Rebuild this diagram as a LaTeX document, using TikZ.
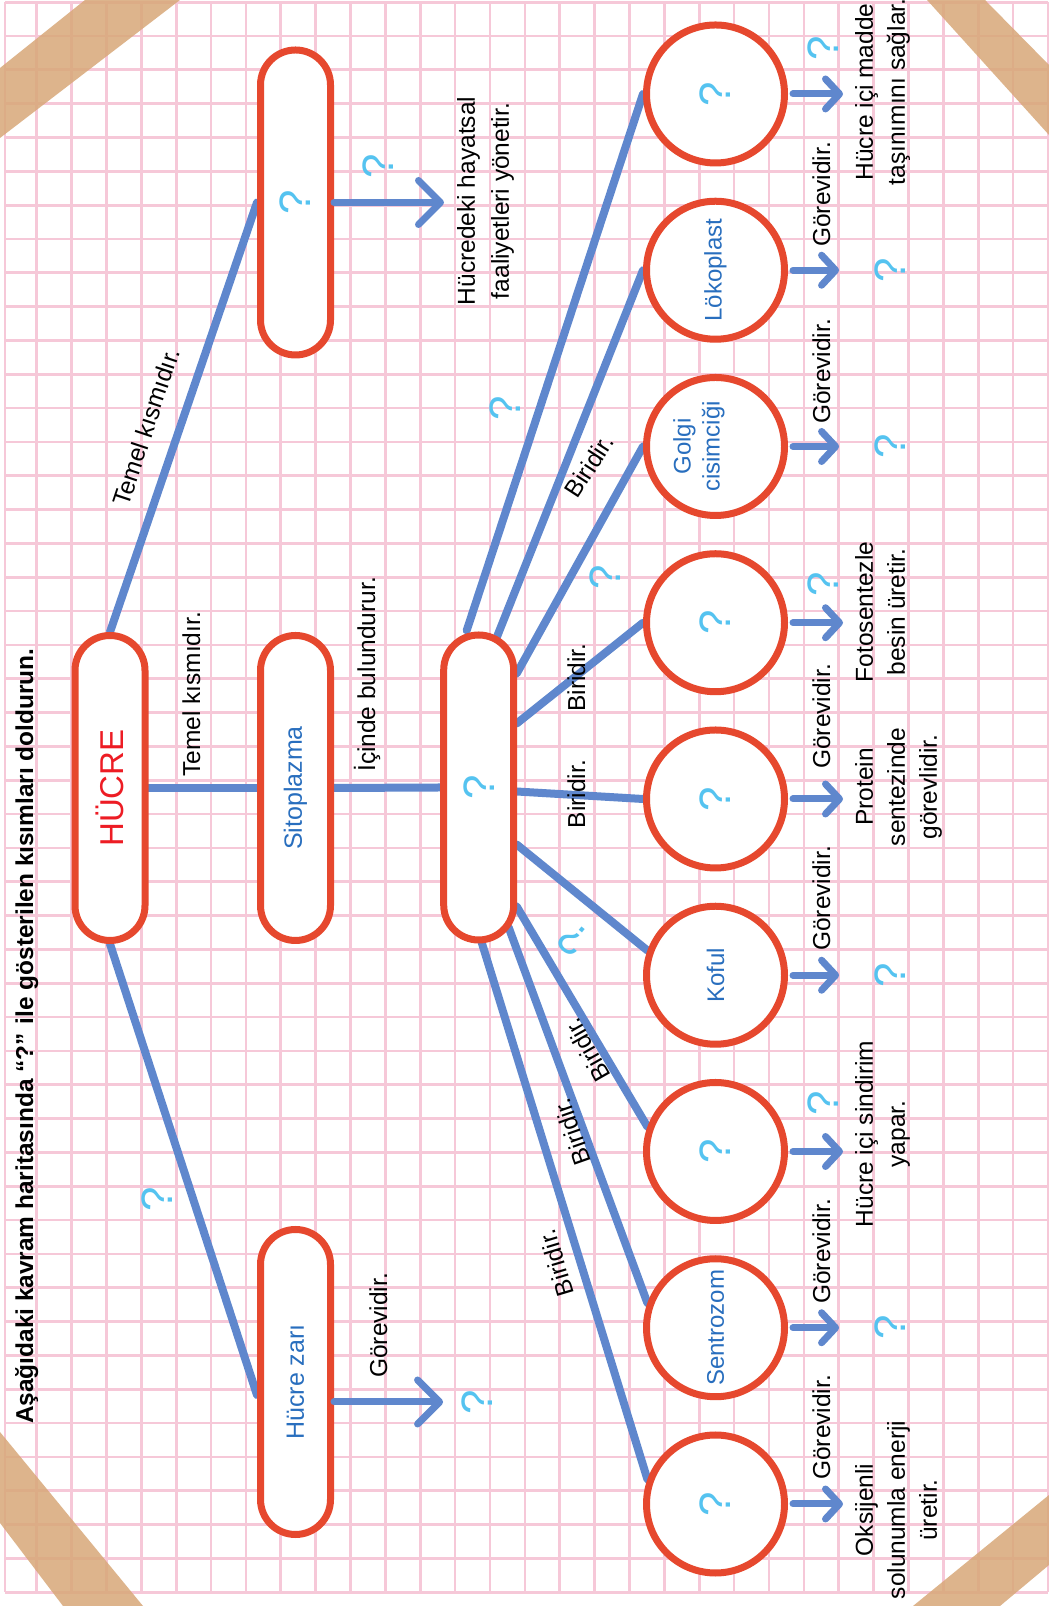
\documentclass[tikz,border=0pt]{standalone}
\usepackage{fontspec}
\setmainfont{Liberation Sans}
\usepackage{tikz}
\usetikzlibrary{arrows.meta,calc}

\definecolor{kirmizi}{RGB}{230,72,46}
\definecolor{hucrerenk}{RGB}{237,28,36}
\definecolor{mavi}{RGB}{95,135,205}
\definecolor{adrenk}{RGB}{40,110,190}
\definecolor{sorurenk}{RGB}{85,195,240}
\definecolor{pembe}{RGB}{246,200,216}
\definecolor{bant}{RGB}{216,168,120}

\pgfdeclarelayer{kagit}
\pgfdeclarelayer{cizgi}
\pgfsetlayers{kagit,cizgi,main}

\tikzset{
  kutu/.style={draw=kirmizi, line width=7pt, fill=white, rounded corners=35pt,
    minimum width=305pt, minimum height=70pt, inner sep=0pt,
    font=\fontsize{25}{30}\selectfont, text=adrenk},
  organel/.style={draw=kirmizi, line width=7pt, fill=white, circle,
    minimum size=138pt, inner sep=0pt, align=center,
    font=\fontsize{24}{29}\selectfont, text=adrenk},
  bos/.style={text=sorurenk, font=\fontsize{44}{44}\selectfont},
  soru/.style={text=sorurenk, font=\fontsize{44}{44}\selectfont, inner sep=0pt},
  yazi/.style={font=\fontsize{24.5}{32}\selectfont, inner sep=0pt, align=center},
  bag/.style={line width=8pt, draw=mavi, line cap=round},
  ok/.style={line width=7pt, draw=mavi, line cap=round,
    -{Straight Barb[length=14pt,width=30pt,round]}},
  buyukok/.style={ok, -{Straight Barb[length=22pt,width=44pt,round]}},
}

\begin{document}
\begin{tikzpicture}[x=1pt, y=1pt]
\useasboundingbox (0,0) rectangle (1049,1606);

% kareli kagit ve bantlar
\begin{pgfonlayer}{kagit}
\fill[white] (0,0) rectangle (1049,1606);
\foreach \j in {0,...,29}
  \draw[pembe, line width=2.7pt] ({36.7+34.87*\j},14) -- ({36.7+34.87*\j},1604);
\draw[pembe, line width=2.7pt] (5,14) -- (5,1604);
\foreach \j in {0,...,47}
  \draw[pembe, line width=2.7pt] (5,{1603.8-33.83*\j}) -- (1048,{1603.8-33.83*\j});
\fill[bant, opacity=.85] (0,1538) -- (85,1606) -- (180,1606) -- (0,1468) -- cycle;
\fill[bant, opacity=.85] (927,1606) -- (985,1606) -- (1049,1541) -- (1049,1471) -- cycle;
\fill[bant, opacity=.85] (0,174) -- (143,0) -- (63,0) -- (0,83) -- cycle;
\fill[bant, opacity=.85] (913,0) -- (1049,111) -- (1049,41) -- (1000,0) -- cycle;
\end{pgfonlayer}

\begin{scope}[rotate=90, transform shape]
\node[anchor=base west, inner sep=0pt, font=\fontsize{24.4}{29}\selectfont\bfseries] (baslik) at (182,-33)
  {Aşağıdaki kavram haritasında “?” ile gösterilen kısımları doldurun.};

% kutular
\node[kutu, text=hucrerenk, font=\fontsize{33}{36}\selectfont] (hucre) at (818,-110) {HÜCRE};
\node[kutu] (sitoplazma) at (818,-295.5) {Sitoplazma};
\node[kutu, bos] (ust) at (1403.5,-295.5) {?};
\node[kutu] (zar) at (224,-295.5) {Hücre zarı};
\node[kutu, bos] (orta) at (818.5,-478.7) {?};

% organeller
\node[organel, bos] (o1) at (102,-715.5) {?};
\node[organel] (o2) at (278.25,-715.5) {Sentrozom};
\node[organel, bos] (o3) at (454.5,-715.5) {?};
\node[organel] (o4) at (630.75,-715.5) {Koful};
\node[organel, bos] (o5) at (807,-715.5) {?};
\node[organel, bos] (o6) at (983.25,-715.5) {?};
\node[organel, text depth=38pt] (o7) at (1159.5,-715.5) {Golgi\\cisimciği};
\node[organel] (o8) at (1335.75,-715.5) {Lökoplast};
\node[organel, bos] (o9) at (1512,-715.5) {?};

% gorevler
\node[yazi, anchor=north] (g1) at (96,-855) {Oksijenli\\solunumla enerji\\üretir.};
\node[soru, anchor=base] (g2) at (278.25,-905) {?};
\node[yazi, anchor=north] (g3) at (472,-855) {Hücre içi sindirim\\yapar.};
\node[soru, anchor=base] (g4) at (630.75,-905) {?};
\node[yazi, anchor=north] (g5) at (819,-855) {Protein\\sentezinde\\görevlidir.};
\node[yazi, anchor=north] (g6) at (994,-855) {Fotosentezle\\besin üretir.};
\node[soru, anchor=base] (g7) at (1159.5,-905) {?};
\node[soru, anchor=base] (g8) at (1335.75,-905) {?};
\node[yazi, anchor=north] (g9) at (1514,-855) {Hücre içi madde\\taşınımını sağlar.};

% fiiller
\node[yazi, anchor=base west] (f1) at (126,-830) {Görevidir.};
\node[yazi, anchor=base west] (f2) at (302,-830) {Görevidir.};
\node[soru, anchor=base] (f3) at (502.5,-838) {?};
\node[yazi, anchor=base west] (f4) at (655,-830) {Görevidir.};
\node[yazi, anchor=base west] (f5) at (837,-830) {Görevidir.};
\node[soru, anchor=base] (f6) at (1022,-838) {?};
\node[yazi, anchor=base west] (f7) at (1182,-830) {Görevidir.};
\node[yazi, anchor=base west] (f8) at (1359,-830) {Görevidir.};
\node[soru, anchor=base] (f9) at (1558,-838) {?};

% baglanti yazilari
\node[yazi, anchor=base west] (temel1) at (829,-200) {Temel kısmıdır.};
\node[yazi, rotate=-18.4] (temel2) at (1179,-146) {Temel kısmıdır.};
\node[soru, anchor=base] (zarbag) at (407,-172) {?};
\node[yazi, anchor=base west] (icinde) at (834,-375) {İçinde bulundurur.};
\node[soru, anchor=base] (ustfiil) at (1440,-393) {?};
\node[yazi, anchor=north, font=\fontsize{24.5}{34}\selectfont] (usttext) at (1405,-457)
  {Hücredeki hayatsal\\faaliyetleri yönetir.};
\node[yazi, anchor=base west] (zarfiil) at (228,-387) {Görevidir.};
\node[soru, anchor=base] (zarsoru) at (204,-492) {?};

\node[soru, anchor=base] (b9) at (1198,-520) {?};
\node[yazi, rotate=-33] (b8) at (1140,-589) {Biridir.};
\node[soru, anchor=base] (b7) at (1029,-620) {?};
\node[yazi, anchor=base] (b6) at (928.5,-585) {Biridir.};
\node[yazi, anchor=base] (b5) at (812,-585) {Biridir.};
\node[soru, rotate=51] (b4) at (666,-573) {?};
\node[yazi, rotate=29.6] (b3) at (556,-587) {Biridir.};
\node[yazi, rotate=19.4] (b2) at (474,-572) {Biridir.};
\node[yazi, rotate=16.7] (b1) at (343,-556) {Biridir.};

% cizgiler
\begin{pgfonlayer}{cizgi}
\draw[bag] (hucre.east) -- (ust.north);
\draw[bag] (hucre.south) -- (sitoplazma.north);
\draw[bag] (hucre.west) -- ($(zar.north)+(-13,0)$);
\draw[bag] (sitoplazma.south) -- (orta.north);
\draw[bag] ($(orta)+(-155,-3)$) -- (o1.70);
\draw[bag] ($(orta)+(-140,-30)$) -- (o2.70);
\draw[bag] ($(orta)+(-119,-38)$) -- (o3.70);
\draw[bag] ($(orta)+(-57,-38)$) -- (o4.70);
\draw[bag] ($(orta)+(-4,-38)$) -- (o5.north);
\draw[bag] ($(orta)+(64,-38)$) -- (o6.north);
\draw[bag] ($(orta)+(114,-38)$) -- (o7.north);
\draw[bag] ($(orta)+(150,-18)$) -- (o8.north);
\draw[bag] ($(orta)+(157,12)$) -- (o9.north);
\end{pgfonlayer}

% oklar
\draw[buyukok, shorten >=13pt] (ust.south) -- (usttext.north -| ust.south);
\draw[buyukok, shorten >=18pt] (zar.south -| zarsoru) -- (zarsoru.north);
\draw[ok, shorten <=5pt, shorten >=12pt] (o1.south) -- (g1.north -| o1.south);
\draw[ok, shorten <=5pt, shorten >=35pt] (o2.south) -- (g2.north -| o2.south);
\draw[ok, shorten <=5pt, shorten >=12pt] (o3.south) -- (g3.north -| o3.south);
\draw[ok, shorten <=5pt, shorten >=35pt] (o4.south) -- (g4.north -| o4.south);
\draw[ok, shorten <=5pt, shorten >=12pt] (o5.south) -- (g5.north -| o5.south);
\draw[ok, shorten <=5pt, shorten >=12pt] (o6.south) -- (g6.north -| o6.south);
\draw[ok, shorten <=5pt, shorten >=35pt] (o7.south) -- (g7.north -| o7.south);
\draw[ok, shorten <=5pt, shorten >=35pt] (o8.south) -- (g8.north -| o8.south);
\draw[ok, shorten <=5pt, shorten >=12pt] (o9.south) -- (g9.north -| o9.south);
\end{scope}
\end{tikzpicture}
\end{document}
